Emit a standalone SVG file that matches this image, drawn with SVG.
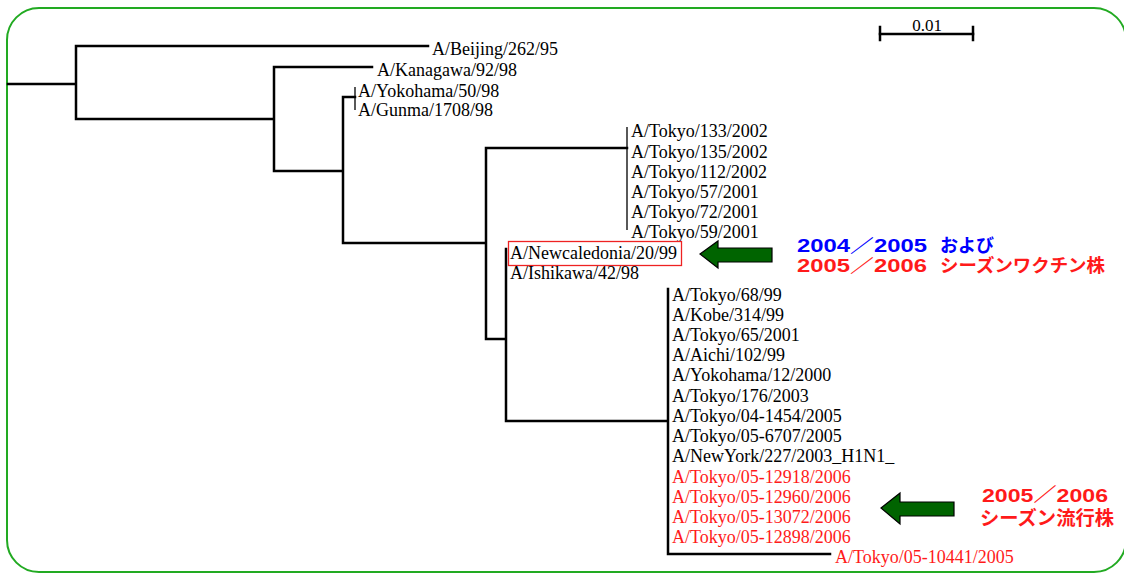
<svg xmlns="http://www.w3.org/2000/svg" width="1124" height="574" viewBox="0 0 1124 574">
<defs>
<style>
.frame{fill:none;stroke:#22aa22;stroke-width:2}
.br{stroke:#000;stroke-width:2.5;fill:none;stroke-linecap:square}
.thin{stroke:#000;stroke-width:1.3;fill:none}
.lbl{font-family:"Liberation Serif","Times New Roman",serif;font-size:18px;fill:#000}
.red{fill:#ff1a1a}
.jp{font-family:"Liberation Sans","Noto Sans CJK JP",sans-serif;font-weight:bold;font-size:18px}
.blue{fill:#0000ff}
.arrow{fill:#006400;stroke:#000;stroke-width:1.2}
</style>
</defs>
<rect width="1124" height="574" fill="#fff"/>
<rect class="frame" x="7" y="8" width="1119" height="564" rx="32" ry="32"/>
<g id="connectors">
<path class="br" d="M8,84 H76 M76,46 V119 M76,46 H428 M76,119 H274 M274,67 V171 M274,67 H372 M274,171 H343 M343,97 V243 M343,97 H355 M343,243 H486 M486,148 V339 M486,148 H627 M486,339 H506 M506,249 V421 M506,421 H668 M668,289 V554 M668,554 H830"/>
<path class="thin" d="M355,87 V110 M627,127 V230"/>
</g>
<g id="scale">
<path class="br" d="M880,34 H973"/>
<path class="br" d="M880,27 V40 M973,27 V40"/>
<text class="lbl" x="927" y="31" text-anchor="middle" style="font-size:17px">0.01</text>
</g>
<g id="leaves-top">
<text class="lbl" x="432" y="55">A/Beijing/262/95</text>
<text class="lbl" x="377" y="76">A/Kanagawa/92/98</text>
<text class="lbl" x="358" y="97">A/Yokohama/50/98</text>
<text class="lbl" x="358" y="116">A/Gunma/1708/98</text>
</g>
<g id="clade-2001">
<text class="lbl" x="631" y="137">A/Tokyo/133/2002</text>
<text class="lbl" x="631" y="158">A/Tokyo/135/2002</text>
<text class="lbl" x="631" y="178">A/Tokyo/112/2002</text>
<text class="lbl" x="631" y="198">A/Tokyo/57/2001</text>
<text class="lbl" x="631" y="218">A/Tokyo/72/2001</text>
<text class="lbl" x="631" y="238">A/Tokyo/59/2001</text>
</g>
<g id="vaccine">
<rect x="508.5" y="241.5" width="173" height="24" fill="none" stroke="#ee2222" stroke-width="1.3"/>
<text class="lbl" x="510" y="259">A/Newcaledonia/20/99</text>
<text class="lbl" x="510" y="279">A/Ishikawa/42/98</text>
</g>
<g id="clade-lower">
<text class="lbl" x="672" y="300.5">A/Tokyo/68/99</text>
<text class="lbl" x="672" y="320.7">A/Kobe/314/99</text>
<text class="lbl" x="672" y="340.9">A/Tokyo/65/2001</text>
<text class="lbl" x="672" y="361.1">A/Aichi/102/99</text>
<text class="lbl" x="672" y="381.3">A/Yokohama/12/2000</text>
<text class="lbl" x="672" y="401.5">A/Tokyo/176/2003</text>
<text class="lbl" x="672" y="421.7">A/Tokyo/04-1454/2005</text>
<text class="lbl" x="672" y="441.9">A/Tokyo/05-6707/2005</text>
<text class="lbl" x="672" y="462.1">A/NewYork/227/2003_H1N1_</text>
<text class="lbl red" x="672" y="482.5">A/Tokyo/05-12918/2006</text>
<text class="lbl red" x="672" y="502.7">A/Tokyo/05-12960/2006</text>
<text class="lbl red" x="672" y="522.9">A/Tokyo/05-13072/2006</text>
<text class="lbl red" x="672" y="543.1">A/Tokyo/05-12898/2006</text>
<text class="lbl red" x="835" y="563">A/Tokyo/05-10441/2005</text>
</g>
<g id="arrow-vaccine">
<polygon class="arrow" points="700,254 718,241 718,248 772,248 772,262 718,262 718,268"/>
<text class="jp blue" x="797" y="252"><tspan textLength="130" lengthAdjust="spacingAndGlyphs">2004／2005</tspan></text>
<text class="jp blue" x="940" y="252">および</text>
<text class="jp red" x="797" y="272"><tspan textLength="130" lengthAdjust="spacingAndGlyphs">2005／2006</tspan></text>
<text class="jp red" x="940" y="272" textLength="165" lengthAdjust="spacingAndGlyphs">シーズンワクチン株</text>
</g>
<g id="arrow-epidemic">
<polygon class="arrow" points="881,508 900,493 900,502 954,502 954,516 900,516 900,524"/>
<text class="jp red" x="982" y="502" style="font-size:19px" textLength="126" lengthAdjust="spacingAndGlyphs">2005／2006</text>
<text class="jp red" x="980" y="525" style="font-size:19px" textLength="134" lengthAdjust="spacingAndGlyphs">シーズン流行株</text>
</g>
</svg>
